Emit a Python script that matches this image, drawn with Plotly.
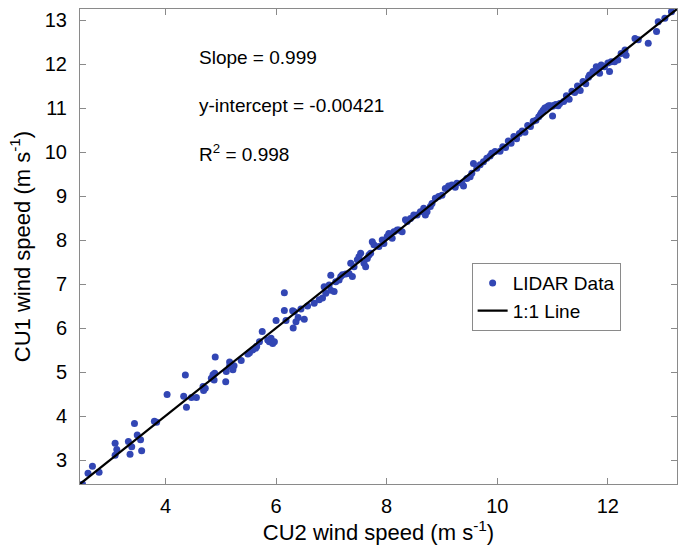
import plotly.graph_objects as go

# CU2 (x) and CU1 (y) wind speeds, m/s
cu2_speed = [
    2.50, 2.60, 2.68, 2.80, 3.09, 3.12, 3.09, 3.33, 3.36, 3.39, 3.44, 3.49, 3.55, 3.57,
    3.84, 3.80, 4.03, 4.36, 4.38, 4.33, 4.47, 4.56, 4.69, 4.72, 4.68, 4.83, 4.86, 4.88,
    4.89, 4.90, 5.09, 5.10, 5.16, 5.22, 5.24, 5.16, 5.37,
    5.49, 5.52, 5.58, 5.63, 5.65, 5.70, 5.75, 5.85, 5.88, 5.91, 5.94, 5.97, 6.00, 6.15,
    6.15, 6.18, 6.30, 6.33, 6.36, 6.40, 6.31,
    6.51, 6.45, 6.57, 6.69, 6.78, 6.84, 6.90, 6.87, 6.96, 6.99, 6.99, 7.05, 7.08, 7.14,
    7.17, 7.20, 7.26, 7.32, 7.38, 7.35, 7.41, 7.47, 7.50, 7.53, 7.59, 7.62, 7.65, 7.68,
    7.71, 7.74, 7.77, 7.86, 7.92, 7.95, 8.01, 8.04, 8.10, 8.13, 8.19, 8.22, 8.28, 8.34,
    8.37, 8.43, 8.49, 8.55, 8.61, 8.67, 8.70, 8.73, 8.79, 8.82, 8.88, 8.94, 9.00, 9.06,
    9.12, 9.18, 9.24, 9.27, 9.36, 9.39, 9.45, 9.51, 9.57, 9.54, 9.63, 9.69, 9.75, 9.81,
    9.87, 9.90, 9.96,
    10.05, 10.10, 10.15, 10.20, 10.25, 10.30, 10.35, 10.40, 10.45, 10.50, 10.55, 10.60,
    10.65, 10.70, 10.75, 10.78, 10.80, 10.83, 10.86, 10.90, 10.93, 10.96, 11.00, 11.03,
    11.06, 11.10, 11.13, 11.20, 11.25, 11.30, 11.35, 11.40, 11.45, 11.50, 11.55, 11.60,
    11.65, 11.00,
    11.67, 11.73, 11.79, 11.82, 11.85, 11.88, 11.94, 12.00, 12.03, 12.06, 12.12, 12.18,
    12.24, 12.31, 12.33, 12.49, 12.55, 12.73, 12.88, 12.91, 13.03, 13.15,
]
cu1_speed = [
    2.45, 2.70, 2.86, 2.72, 3.38, 3.24, 3.11, 3.42, 3.13, 3.30, 3.83, 3.57, 3.46, 3.21,
    3.86, 3.88, 4.49, 4.93, 4.20, 4.45, 4.42, 4.42, 4.58, 4.63, 4.67, 4.86, 4.94, 4.82,
    4.97, 5.34, 4.78, 5.01, 5.13, 5.05, 5.14, 5.23, 5.26,
    5.41, 5.44, 5.50, 5.54, 5.58, 5.69, 5.92, 5.73, 5.69, 5.77, 5.65, 5.69, 6.17, 6.80,
    6.40, 6.17, 6.39, 6.37, 6.14, 6.24, 6.00,
    6.20, 6.43, 6.50, 6.56, 6.64, 6.68, 6.79, 6.94, 6.98, 6.86, 7.20, 6.83, 7.05, 7.09,
    7.17, 7.21, 7.23, 7.24, 7.17, 7.47, 7.39, 7.55, 7.62, 7.70, 7.47, 7.39, 7.58, 7.66,
    7.70, 7.96, 7.89, 7.85, 8.00, 7.92, 8.08, 8.15, 8.04, 8.19, 8.23, 8.23, 8.19, 8.46,
    8.42, 8.49, 8.57, 8.57, 8.64, 8.72, 8.57, 8.64, 8.76, 8.83, 8.95, 8.99, 9.02, 9.17,
    9.23, 9.25, 9.20, 9.29, 9.29, 9.23, 9.40, 9.44, 9.74, 9.52, 9.63, 9.71, 9.78, 9.86,
    9.91, 9.97, 10.01,
    10.02, 10.12, 10.10, 10.25, 10.20, 10.35, 10.30, 10.42, 10.48, 10.45, 10.60, 10.58,
    10.70, 10.72, 10.80, 10.85, 10.90, 10.95, 11.00, 11.02, 11.05, 11.05, 11.04, 11.06,
    11.08, 11.05, 11.10, 11.15, 11.28, 11.20, 11.38, 11.35, 11.50, 11.40, 11.60, 11.55,
    11.70, 10.82,
    11.75, 11.83, 11.94, 11.86, 11.79, 11.98, 11.94, 12.02, 11.83, 12.05, 12.05, 12.09,
    12.24, 12.32, 12.20, 12.58, 12.55, 12.47, 12.74, 12.96, 13.04, 13.19,
]

axis_range = [2.455, 13.25]
x_ticks = [4, 6, 8, 10, 12]
y_ticks = [3, 4, 5, 6, 7, 8, 9, 10, 11, 12, 13]
stats_text = ["Slope = 0.999", "y-intercept = -0.00421", "R<sup>2</sup> = 0.998"]
stats_y = [12.14, 11.05, 9.98]

FONT = "Liberation Sans, Arial, sans-serif"
FRAME = "#8a8a8a"

fig = go.Figure()
fig.add_trace(go.Scatter(
    x=cu2_speed, y=cu1_speed, mode="markers", name="LIDAR Data",
    marker=dict(color="#3246b4", size=7, line=dict(width=0)),
))
fig.add_trace(go.Scatter(
    x=axis_range, y=axis_range, mode="lines", name="1:1 Line",
    line=dict(color="black", width=2.2),
))

for txt, yv in zip(stats_text, stats_y):
    fig.add_annotation(x=4.57, y=yv, xref="x", yref="y", text=txt, showarrow=False,
                       xanchor="left", yanchor="middle",
                       font=dict(family=FONT, size=19, color="black"))

axis_common = dict(
    showgrid=False, zeroline=False, showline=True, linecolor=FRAME, linewidth=1,
    mirror="ticks", ticks="inside", ticklen=6, tickcolor=FRAME, tickwidth=1,
    tickfont=dict(family=FONT, size=20, color="black"),
)

fig.update_layout(
    width=678, height=556,
    margin=dict(l=80, r=1, t=9, b=72),
    paper_bgcolor="white", plot_bgcolor="white",
    font=dict(family=FONT, color="black"),
    showlegend=True,
    legend=dict(x=0.656, y=0.465, xanchor="left", yanchor="top",
                bgcolor="white", bordercolor=FRAME, borderwidth=1,
                font=dict(family=FONT, size=19, color="black"),
                tracegroupgap=0),
    xaxis=dict(range=axis_range, tickvals=x_ticks, ticklabelstandoff=4,
               title=dict(text="CU2 wind speed (m s<sup>-1</sup>)", standoff=6,
                          font=dict(family=FONT, size=22, color="black")),
               **axis_common),
    yaxis=dict(range=axis_range, tickvals=y_ticks, ticklabelstandoff=8,
               title=dict(text="CU1 wind speed (m s<sup>-1</sup>)", standoff=8,
                          font=dict(family=FONT, size=22, color="black")),
               **axis_common),
)

fig.write_html("out.html")
